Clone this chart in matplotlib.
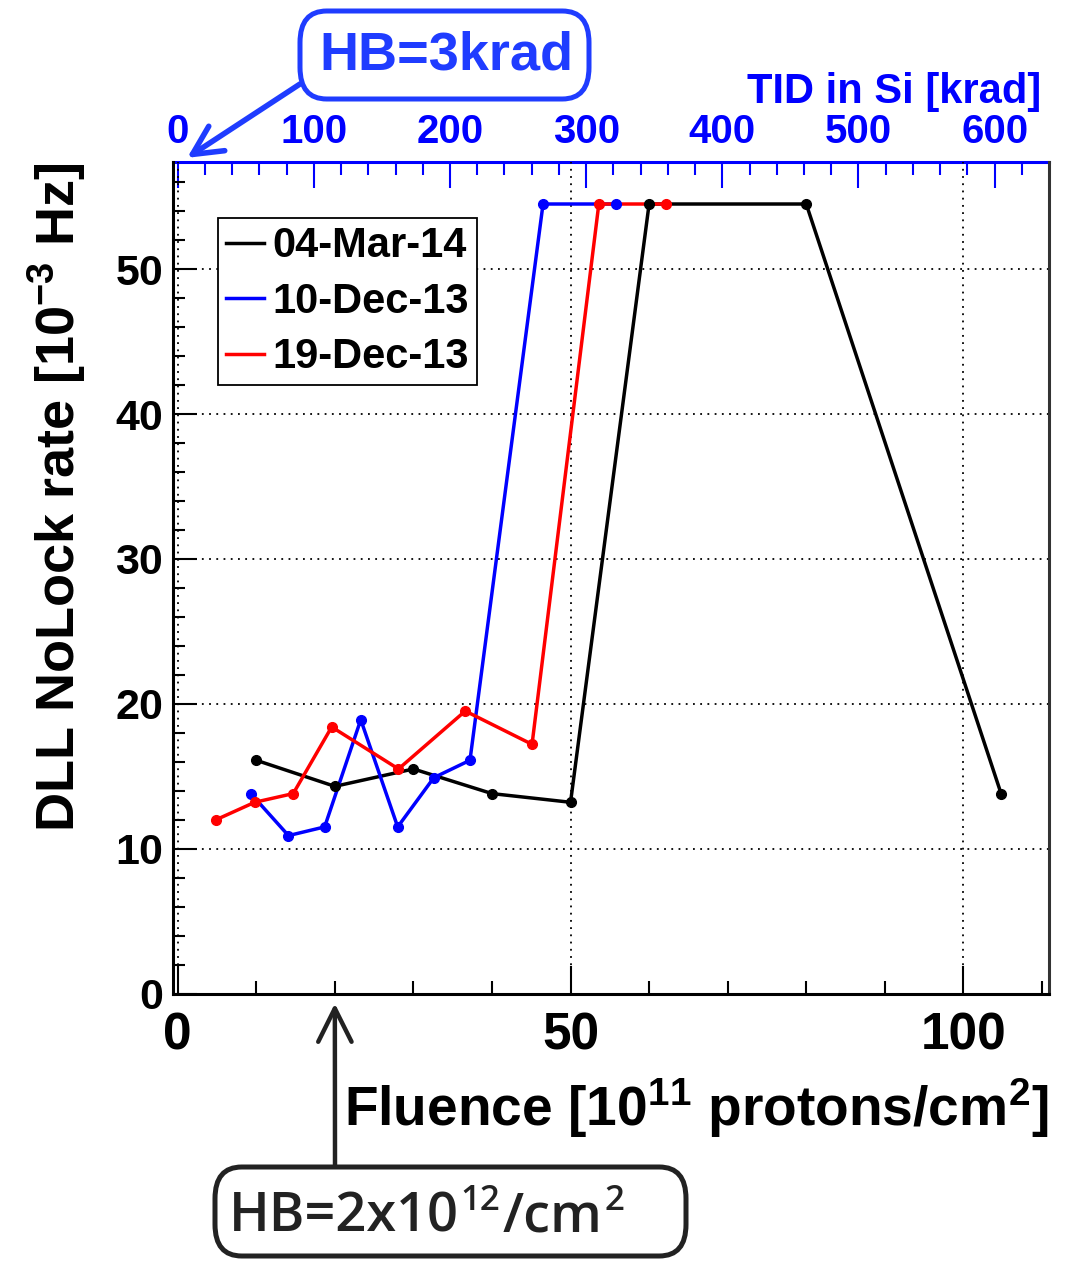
import numpy as np
import matplotlib.pyplot as plt
from matplotlib.patches import FancyBboxPatch
from matplotlib.ticker import MultipleLocator, FixedLocator

# fluence [1e11 p/cm2] vs DLL NoLock rate [1e-3 Hz]
mar14_x = [10, 20, 30, 40, 50, 60, 80, 104.8]
mar14_y = [16.1, 14.3, 15.5, 13.8, 13.2, 54.5, 54.5, 13.8]
dec10_x = [9.3, 14.1, 18.7, 23.3, 28.0, 32.6, 37.2, 46.5, 55.8]
dec10_y = [13.8, 10.9, 11.5, 18.9, 11.5, 14.9, 16.1, 54.5, 54.5]
dec19_x = [4.9, 9.8, 14.7, 19.6, 28.1, 36.6, 45.1, 53.6, 62.2]
dec19_y = [12.0, 13.2, 13.8, 18.4, 15.5, 19.5, 17.2, 54.5, 54.5]

labels = ['04-Mar-14', '10-Dec-13', '19-Dec-13']
colors = ['black', 'blue', 'red']
tid_ticks = [0, 100, 200, 300, 400, 500, 600]
krad_per_fluence = 1 / 0.1733

W, H = 1067, 1262
def fx(px): return px / W
def fy(py): return 1 - py / H

bold = ['Liberation Sans', 'DejaVu Sans']
plt.rcParams['mathtext.fontset'] = 'custom'
plt.rcParams['mathtext.rm'] = 'Liberation Sans:bold'
plt.rcParams['mathtext.it'] = 'Liberation Sans:bold'
plt.rcParams['mathtext.bf'] = 'Liberation Sans:bold'

fig = plt.figure(figsize=(W / 100, H / 100), dpi=100)
ax = fig.add_axes([fx(173), fy(993.5), fx(1049) - fx(173), fy(162) - fy(993.5)])

series = [(mar14_x, mar14_y), (dec10_x, dec10_y), (dec19_x, dec19_y)]
for (x, y), c, lab in zip(series, colors, labels):
    ax.plot(x, y, color=c, lw=2.5, label=lab, zorder=3)
for (x, y), c in zip(series, colors):
    ax.plot(x, y, 'o', color=c, ms=7, zorder=4)

ax.set_xlim(-0.6, 110.9)
ax.set_ylim(0, 57.4)
ax.xaxis.set_major_locator(MultipleLocator(50))
ax.xaxis.set_minor_locator(MultipleLocator(10))
ax.yaxis.set_major_locator(MultipleLocator(10))
ax.yaxis.set_minor_locator(MultipleLocator(2))
ax.grid(True, which='major', color='black', ls=(0, (1, 3)), lw=1.3)
ax.tick_params(axis='x', which='major', direction='in', length=20, width=1.5, pad=13)
ax.tick_params(axis='x', which='minor', direction='in', length=9.5, width=1.5)
ax.tick_params(axis='y', which='major', direction='in', length=17, width=1.5, pad=7)
ax.tick_params(axis='y', which='minor', direction='in', length=8.5, width=1.5)
for t in ax.get_xticklabels():
    t.set_fontfamily(bold); t.set_fontweight('bold'); t.set_fontsize(37)
for t in ax.get_yticklabels():
    t.set_fontfamily(bold); t.set_fontweight('bold'); t.set_fontsize(31)
for s in ['left', 'bottom', 'right']:
    ax.spines[s].set_linewidth(2.2)
ax.spines['right'].set_color('#333333')
ax.spines['top'].set_visible(False)

# top TID axis
sec = ax.secondary_xaxis('top', functions=(lambda f: f * krad_per_fluence,
                                            lambda t: t / krad_per_fluence))
sec.xaxis.set_major_locator(FixedLocator(tid_ticks))
sec.xaxis.set_minor_locator(MultipleLocator(20))
sec.tick_params(which='major', direction='in', length=19, width=1.5, color='blue', pad=8)
sec.tick_params(which='minor', direction='in', length=9.5, width=1.5, color='blue')
sec.spines['top'].set_color('blue')
sec.spines['top'].set_linewidth(2.2)
for t in sec.get_xticklabels():
    t.set_fontfamily(bold); t.set_fontweight('bold'); t.set_fontsize(29); t.set_color('blue')
fig.text(fx(1041), fy(92), 'TID in Si [krad]', ha='right', va='center', color='blue',
         fontsize=30, fontweight='bold', family=bold)

fig.text(fx(1048), fy(1108), r'Fluence [10$^{11}$ protons/cm$^{2}$]', ha='right', va='center',
         fontsize=39.7, fontweight='bold', family=bold)
fig.text(fx(57), fy(497), r'DLL NoLock rate [10$^{-3}$ Hz]', ha='center', va='center',
         rotation=90, fontsize=39, fontweight='bold', family=bold)

leg = ax.legend(loc='upper left', bbox_to_anchor=(0.0514, 0.9327), borderaxespad=0,
                handlelength=0.9, handletextpad=0.2, labelspacing=0.37, borderpad=0.2,
                fancybox=False, edgecolor='black', framealpha=1,
                prop={'family': bold, 'weight': 'bold', 'size': 30})
leg.get_frame().set_linewidth(1.3)
leg.set_zorder(5)

# HB=3krad callout
blue_box = '#1f3cff'
fig.patches.append(FancyBboxPatch((fx(300), fy(99)), fx(589) - fx(300), fy(11) - fy(99),
                                  boxstyle='round,pad=0,rounding_size=0.025',
                                  transform=fig.transFigure, fc='white', ec=blue_box,
                                  lw=3.6, zorder=10))
fig.text(fx(446), fy(56), 'HB=3krad', ha='center', va='center', color=blue_box,
         fontsize=39, fontweight='bold', family=bold, zorder=11)
ax.annotate('', xy=(1.2, 1.005), xycoords=('data', 'axes fraction'),
            xytext=(fx(300), fy(84)), textcoords='figure fraction',
            arrowprops=dict(arrowstyle='->,head_length=0.7,head_width=0.35',
                            color=blue_box, lw=4, mutation_scale=30,
                            shrinkA=0, shrinkB=0), annotation_clip=False)

# HB=2x10^12/cm^2 callout
dark = '#222222'
hb_font = dict(color=dark, fontweight='semibold', family=['Open Sans', 'DejaVu Sans'],
               zorder=11, annotation_clip=False)
ax.add_patch(FancyBboxPatch((fx(215), fy(1256)), fx(686) - fx(215), fy(1167) - fy(1256),
                            boxstyle='round,pad=0,rounding_size=0.025',
                            transform=fig.transFigure, fc='white', ec=dark,
                            lw=3.6, zorder=10, clip_on=False))
base = fy(1232)
t1 = ax.annotate('HB=2x10', xy=(fx(229), base), xycoords='figure fraction',
                 ha='left', va='baseline', fontsize=39, **hb_font)
t2 = ax.annotate('12', xy=(1.0, 1.0), xycoords=t1, xytext=(1, 5), textcoords='offset points',
                 ha='left', va='top', fontsize=25, **hb_font)
t3 = ax.annotate('/cm', xy=(1.0, base), xycoords=(t2, 'figure fraction'),
                 xytext=(2, 0), textcoords='offset points',
                 ha='left', va='baseline', fontsize=39, **hb_font)
ax.annotate('2', xy=(1.0, 1.0), xycoords=t3, xytext=(1, 5), textcoords='offset points',
            ha='left', va='top', fontsize=25, **hb_font)
ax.annotate('', xy=(20, -0.012), xycoords=('data', 'axes fraction'),
            xytext=(fx(335), fy(1166)), textcoords='figure fraction',
            arrowprops=dict(arrowstyle='->,head_length=0.8,head_width=0.4',
                            color=dark, lw=3.2, mutation_scale=30,
                            shrinkA=0, shrinkB=0), annotation_clip=False)

fig.savefig('out.png', dpi=100)
